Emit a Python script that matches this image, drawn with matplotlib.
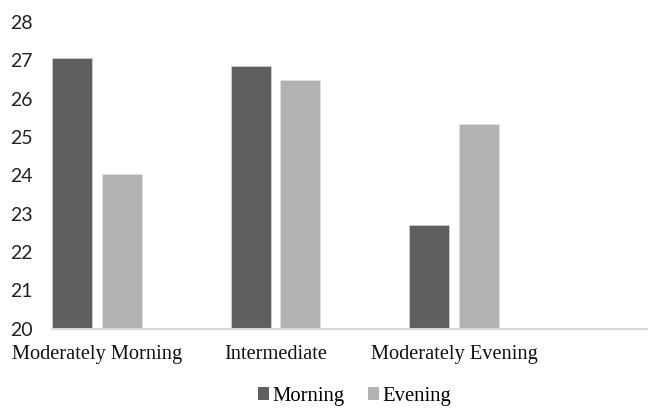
import matplotlib
matplotlib.use("Agg")
import matplotlib.pyplot as plt
import numpy as np
from matplotlib.patches import Patch

# Chronotype groups and mean scores for each testing session
categories = ["Moderately Morning", "Intermediate", "Moderately Evening"]
morning = [27.05, 26.85, 22.69]
evening = [24.04, 26.49, 25.35]
series_names = ["Morning", "Evening"]
yticks = [20, 21, 22, 23, 24, 25, 26, 27, 28]

dark = "#5f5f5f"
light = "#b2b2b2"
serif = ["Liberation Serif", "DejaVu Serif"]

fig = plt.figure(figsize=(6.48, 4.08), dpi=100)
ax = fig.add_axes([52 / 648, 1 - 328.5 / 408, 1 - 52 / 648, (328.5 - 22) / 408])

x = np.arange(len(categories))
w = 0.224
off = 0.139
ax.bar(x - off, morning, width=w, color=dark, edgecolor="#d0d0d0", linewidth=0.6, bottom=0)
ax.bar(x + off, evening, width=w, color=light, edgecolor="#e0e0e0", linewidth=0.6, bottom=0)

ax.set_ylim(20, 28)
ax.set_xlim(-0.252, 3.087)
ax.set_yticks(yticks)
ax.set_yticklabels([str(t) for t in yticks], family="Lato", fontsize=14, color="#222222")
ax.set_xticks(x)
ax.set_xticklabels(categories, family=serif, fontsize=14.7, color="#111111")
ax.tick_params(axis="both", length=0)
ax.tick_params(axis="y", pad=14)
ax.tick_params(axis="x", pad=12)

for s in ["top", "right", "left"]:
    ax.spines[s].set_visible(False)
ax.spines["bottom"].set_color("#d9d9d9")
ax.spines["bottom"].set_linewidth(1.5)

handles = [Patch(facecolor=dark, edgecolor="none"), Patch(facecolor=light, edgecolor="none")]
fig.legend(handles, series_names, loc="center", bbox_to_anchor=(354.5 / 648, 1 - 396.5 / 408),
           ncol=2, frameon=False, prop={"family": serif, "size": 14.9},
           handlelength=0.55, handleheight=0.55, handletextpad=0.18, columnspacing=1.1,
           borderpad=0, borderaxespad=0)

fig.savefig("out.png", dpi=100, facecolor="white")
